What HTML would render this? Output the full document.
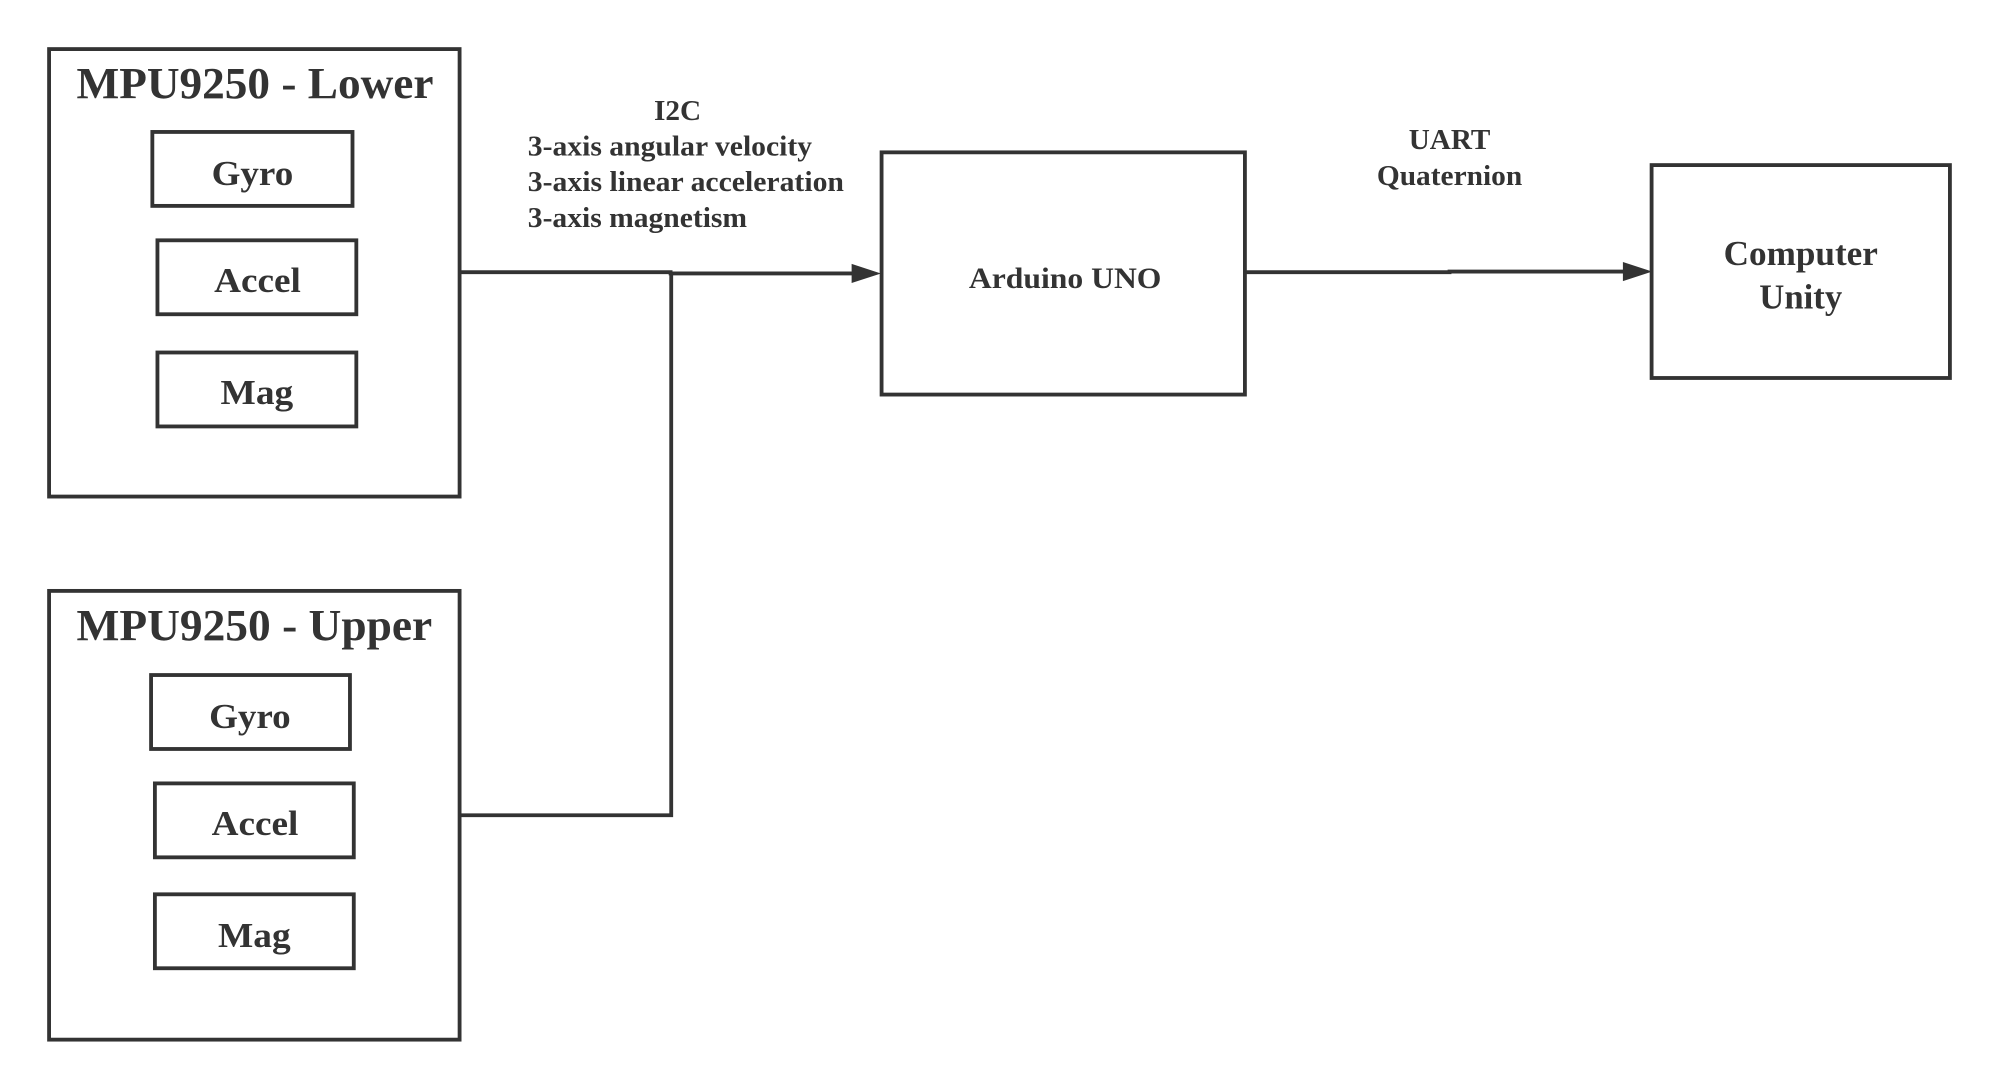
<!DOCTYPE html>
<html><head><meta charset="utf-8"><style>html,body{margin:0;padding:0;background:#fff}svg{display:block}</style></head>
<body>
<svg width="1999" height="1090" viewBox="0 0 1568 855" preserveAspectRatio="none" xmlns="http://www.w3.org/2000/svg">
<g fill="none" stroke="#333" stroke-width="3">
<rect x="38.5" y="38.5" width="322" height="351"/>
<rect x="119.5" y="103.5" width="157" height="58"/>
<rect x="123.5" y="188.5" width="156" height="58"/>
<rect x="123.5" y="276.5" width="156" height="58"/>
<rect x="38.5" y="463.5" width="322" height="352"/>
<rect x="118.5" y="529.5" width="156" height="58"/>
<rect x="121.5" y="614.5" width="156" height="58"/>
<rect x="121.5" y="701.5" width="156" height="58"/>
<rect x="691.5" y="119.5" width="285" height="190"/>
<rect x="1295.5" y="129.5" width="234" height="167"/>
<polyline points="361,213.5 526,213.5 526,214.5 672,214.5"/>
<polyline points="361,639.5 526.5,639.5 526.5,214"/>
<polyline points="977,213.5 1137,213.5 1137,213 1277,213"/>
</g>
<polygon points="668,207 691,214.5 668,222" fill="#333"/>
<polygon points="1273,205.5 1296,213 1273,220.5" fill="#333"/>
<g font-family="Liberation Serif, serif" font-weight="bold" fill="#333" lengthAdjust="spacingAndGlyphs">
<text x="60" y="77" font-size="35" textLength="280" lengthAdjust="spacingAndGlyphs">MPU9250 - Lower</text>
<text x="166" y="145" font-size="27" textLength="64" lengthAdjust="spacingAndGlyphs">Gyro</text>
<text x="168" y="229" font-size="27" textLength="68" lengthAdjust="spacingAndGlyphs">Accel</text>
<text x="173" y="317" font-size="27" textLength="57" lengthAdjust="spacingAndGlyphs">Mag</text>
<text x="60" y="502" font-size="35" textLength="279" lengthAdjust="spacingAndGlyphs">MPU9250 - Upper</text>
<text x="164" y="571" font-size="27" textLength="64" lengthAdjust="spacingAndGlyphs">Gyro</text>
<text x="166" y="655" font-size="27" textLength="68" lengthAdjust="spacingAndGlyphs">Accel</text>
<text x="171" y="743" font-size="27" textLength="57" lengthAdjust="spacingAndGlyphs">Mag</text>
<text x="760" y="226" font-size="23" textLength="151" lengthAdjust="spacingAndGlyphs">Arduino UNO</text>
<text x="1352" y="208" font-size="27" textLength="121" lengthAdjust="spacingAndGlyphs">Computer</text>
<text x="1380" y="242" font-size="27" textLength="65" lengthAdjust="spacingAndGlyphs">Unity</text>
<text x="513" y="94" font-size="22" textLength="37" lengthAdjust="spacingAndGlyphs">I2C</text>
<text x="1105" y="117" font-size="22" textLength="64" lengthAdjust="spacingAndGlyphs">UART</text>
<text x="1080" y="145" font-size="22" textLength="114" lengthAdjust="spacingAndGlyphs">Quaternion</text>
<text x="414" y="122" font-size="22" textLength="223" lengthAdjust="spacingAndGlyphs">3-axis angular velocity</text>
<text x="414" y="150" font-size="22" textLength="248" lengthAdjust="spacingAndGlyphs">3-axis linear acceleration</text>
<text x="414" y="178" font-size="22" textLength="172" lengthAdjust="spacingAndGlyphs">3-axis magnetism</text>
</g>
</svg>
</body></html>
